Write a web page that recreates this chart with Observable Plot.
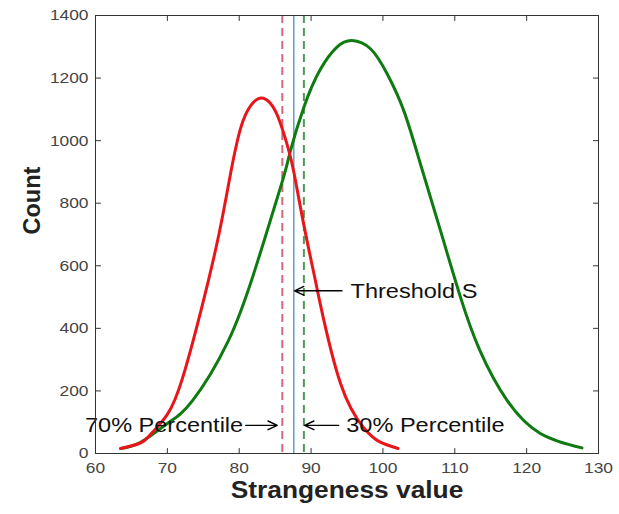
<!DOCTYPE html>
<html><head><meta charset="utf-8">
<script src="https://cdn.jsdelivr.net/npm/d3@7"></script>
<script src="https://cdn.jsdelivr.net/npm/@observablehq/plot@0.6"></script>
<style>body{margin:0;background:#fff}</style>
</head><body><div id="chart"></div>
<script>
// Tick values
const xTicks = [60, 70, 80, 90, 100, 110, 120, 130];
const yTicks = [0, 200, 400, 600, 800, 1000, 1200, 1400];

// Red distribution
const redX = [63.5, 66.3, 67.7, 70.0, 72.1, 74.8, 77.2, 78.8, 80.2, 81.6, 83.0, 84.3, 85.5, 86.7, 87.6, 89.0, 90.6, 91.3, 94.1, 97.3, 99.5, 102.1];
const redY = [16, 34, 62, 125, 240, 468, 703, 895, 1040, 1112, 1136, 1120, 1070, 985, 900, 730, 553, 476, 224, 83, 38, 16];

// Green distribution
const greenX = [63.5, 66.3, 70.0, 73.5, 78.5, 82.3, 86.0, 87.1, 89.0, 91.3, 93.6, 95.7, 98.3, 100.6, 102.9, 105.2, 108.0, 110.8, 113.5, 117.3, 121.9, 127.7];
const greenY = [16, 36, 96, 169, 361, 595, 870, 965, 1107, 1228, 1299, 1320, 1293, 1213, 1096, 927, 713, 499, 329, 169, 64, 18];

// Vertical markers
const pct70 = 86.0;
const thresholdS = 87.6;
const pct30 = 89.0;

// Annotations
const leftNotes = ["70% Percentile"];
const leftNoteX = [80.55];
const leftNoteY = [90];
const rightNotes = ["Threshold S", "30% Percentile"];
const rightNoteX = [95.5, 94.9];
const rightNoteY = [518, 90];
const arrowFrom = [80.9, 94.3, 93.85];
const arrowTo = [85.3, 87.7, 89.1];
const arrowY = [90, 520, 90];

const red = redX.map((x, i) => ({x, y: redY[i]}));
const green = greenX.map((x, i) => ({x, y: greenY[i]}));
const lNotes = leftNotes.map((t, i) => ({t, x: leftNoteX[i], y: leftNoteY[i]}));
const rNotes = rightNotes.map((t, i) => ({t, x: rightNoteX[i], y: rightNoteY[i]}));
const arrows = arrowFrom.map((x1, i) => ({x1, x2: arrowTo[i], y: arrowY[i]}));

const tickShape = {draw(context, l) { context.moveTo(0, 0); context.lineTo(0, -l); }};
const tickOpts = {length: 5, anchor: "start", shape: tickShape, stroke: "#333", strokeWidth: 1};

const chart = Plot.plot({
  width: 619,
  height: 514,
  marginLeft: 95,
  marginRight: 21,
  marginTop: 15,
  marginBottom: 61,
  style: {fontFamily: "'Liberation Sans', Arial, sans-serif", background: "#fff"},
  x: {domain: [60, 130]},
  y: {domain: [0, 1400]},
  marks: [
    Plot.ruleX([pct70], {stroke: "#d4687c", strokeWidth: 2, strokeDasharray: "8,5"}),
    Plot.ruleX([pct30], {stroke: "#4f9a55", strokeWidth: 2, strokeDasharray: "8,5"}),
    Plot.ruleX([thresholdS], {stroke: "#4a8fba", strokeWidth: 1.3}),
    Plot.line(green, {x: "x", y: "y", curve: "natural", stroke: "#0f7a12", strokeWidth: 3}),
    Plot.line(red, {x: "x", y: "y", curve: "natural", stroke: "#e8161b", strokeWidth: 3}),
    Plot.arrow(arrows, {x1: "x1", x2: "x2", y1: "y", y2: "y", stroke: "#000", strokeWidth: 1.4, headLength: 11, headAngle: 50}),
    Plot.text(lNotes, {x: "x", y: "y", text: "t", textAnchor: "end", fontSize: 21, fill: "#111"}),
    Plot.text(rNotes, {x: "x", y: "y", text: "t", textAnchor: "start", fontSize: 21, fill: "#111"}),
    Plot.frame({stroke: "#333", strokeWidth: 1}),
    Plot.vector(xTicks, {x: d => d, frameAnchor: "bottom", rotate: 0, ...tickOpts}),
    Plot.vector(xTicks, {x: d => d, frameAnchor: "top", rotate: 180, ...tickOpts}),
    Plot.vector(yTicks, {y: d => d, frameAnchor: "left", rotate: 90, ...tickOpts}),
    Plot.vector(yTicks, {y: d => d, frameAnchor: "right", rotate: -90, ...tickOpts}),
    Plot.axisX(xTicks, {tickSize: 0, tickPadding: 8, fontSize: 15.5, color: "#444", label: null, tickFormat: d => String(d)}),
    Plot.axisY(yTicks, {tickSize: 0, tickPadding: 7, fontSize: 15.5, color: "#444", label: null, tickFormat: d => String(d)}),
    Plot.text(["Strangeness value"], {text: d => d, frameAnchor: "bottom", dy: 44, fontSize: 23.5, fontWeight: "bold", fill: "#222"}),
    Plot.text(["Count"], {text: d => d, frameAnchor: "left", dx: -63, rotate: -90, fontSize: 23.5, fontWeight: "bold", fill: "#222"})
  ]
});
document.getElementById("chart").appendChild(chart);

// The reference image is horizontally stretched; widen horizontal text to match
chart.querySelectorAll("text").forEach(el => {
  if (el.textContent === "Count") return;
  const len = el.getComputedTextLength();
  if (len > 0) {
    el.setAttribute("textLength", (len * 1.12).toFixed(1));
    el.setAttribute("lengthAdjust", "spacingAndGlyphs");
  }
});
</script>
</body></html>
